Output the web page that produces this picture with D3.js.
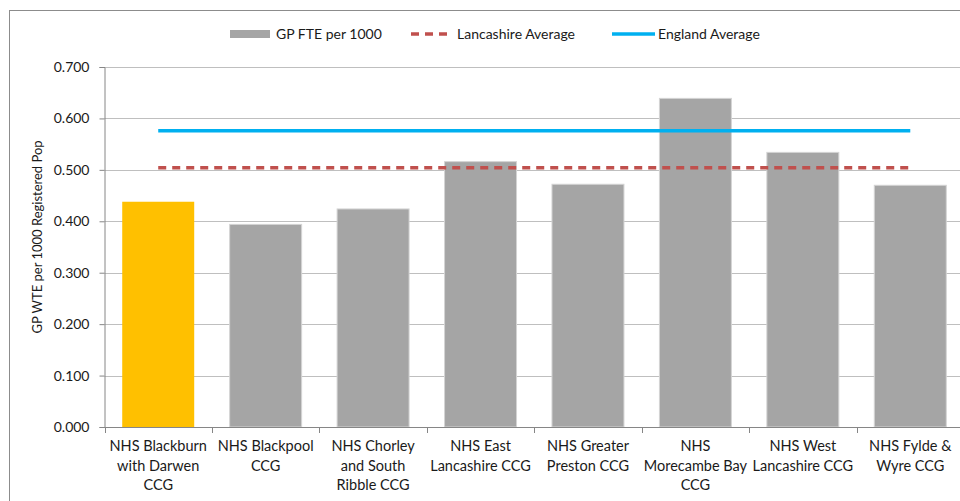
<!DOCTYPE html>
<html>
<head>
<meta charset="utf-8">
<script src="https://cdn.jsdelivr.net/npm/d3@7"></script>
<style>
  body { margin: 0; background: #fff; }
  svg text { font-family: Lato, "Open Sans", sans-serif; fill: #1a1a1a; }
</style>
</head>
<body>
<div id="chart"></div>
<script>
// CCG names, one entry per label line
const categories = [
    ["NHS Blackburn", "with Darwen", "CCG"],
    ["NHS Blackpool", "CCG"],
    ["NHS Chorley", "and South", "Ribble CCG"],
    ["NHS East", "Lancashire CCG"],
    ["NHS Greater", "Preston CCG"],
    ["NHS", "Morecambe Bay", "CCG"],
    ["NHS West", "Lancashire CCG"],
    ["NHS Fylde &", "Wyre CCG"]
];
const gpFte = [0.438, 0.394, 0.424, 0.516, 0.472, 0.639, 0.534, 0.470];
const lancsAverage = 0.504;
const englandAverage = 0.576;
const yTicks = [0, 0.1, 0.2, 0.3, 0.4, 0.5, 0.6, 0.7];

const width = 960, height = 501;
const margin = {top: 67, right: -4, bottom: 74, left: 104.5};

const svg = d3.select("#chart").append("svg")
    .attr("width", width)
    .attr("height", height);

// chart frame
svg.append("rect")
    .attr("x", 9.5).attr("y", 10.5)
    .attr("width", 980).attr("height", 520)
    .attr("fill", "none")
    .attr("stroke", "#8c8c8c");

const x = d3.scaleBand()
    .domain(d3.range(categories.length))
    .range([margin.left, width - margin.right])
    .paddingInner(0.33)
    .paddingOuter(0.165);

const y = d3.scaleLinear()
    .domain([0, 0.7])
    .range([height - margin.bottom, margin.top]);

// gridlines
svg.append("g").selectAll("line")
    .data(yTicks.slice(1))
    .join("line")
    .attr("x1", margin.left).attr("x2", width - margin.right)
    .attr("y1", d => Math.round(y(d)) + 0.5)
    .attr("y2", d => Math.round(y(d)) + 0.5)
    .attr("stroke", "#bfbfbf");

// y axis
let yAxis = svg.append("g")
    .attr("transform", "translate(" + margin.left + ",0)")
    .call(d3.axisLeft(y).tickValues(yTicks).tickFormat(d3.format(".3f")).tickSize(5).tickPadding(10));
yAxis.select(".domain").attr("stroke", "#868686");
yAxis.selectAll(".tick line").attr("stroke", "#868686");
yAxis.selectAll("text").attr("font-size", 14).attr("font-family", "Lato, sans-serif").attr("fill", "#1a1a1a");

// y axis title
svg.append("text")
    .attr("transform", "translate(42," + ((margin.top + height - margin.bottom) / 2 - 10) + ") rotate(-90)")
    .attr("text-anchor", "middle")
    .attr("font-size", 13)
    .text("GP WTE per 1000 Registered Pop");

// bars
svg.append("g").selectAll("rect")
    .data(gpFte)
    .join("rect")
    .attr("x", (d, i) => x(i))
    .attr("y", d => y(d))
    .attr("width", x.bandwidth())
    .attr("height", d => y(0) - y(d))
    .attr("fill", (d, i) => i === 0 ? "#ffc000" : "#a5a5a5")
    .attr("stroke", (d, i) => i === 0 ? "none" : "#d4d4d4")
    .attr("stroke-width", 1);

// x axis line and category ticks
const step = x.step();
const x0 = x(0) - x.step() * x.paddingOuter();
svg.append("line")
    .attr("x1", margin.left).attr("x2", width - margin.right)
    .attr("y1", y(0) + 0.5).attr("y2", y(0) + 0.5)
    .attr("stroke", "#868686");
svg.append("g").selectAll("line")
    .data(d3.range(categories.length + 1))
    .join("line")
    .attr("x1", i => Math.round(x0 + i * step) + 0.5)
    .attr("x2", i => Math.round(x0 + i * step) + 0.5)
    .attr("y1", y(0)).attr("y2", y(0) + 6)
    .attr("stroke", "#868686");

// category labels
svg.append("g").selectAll("text")
    .data(categories)
    .join("text")
    .attr("text-anchor", "middle")
    .attr("font-size", 14.5)
    .attr("x", (d, i) => x(i) + x.bandwidth() / 2)
    .attr("y", y(0) + 24)
    .each(function(lines) {
        let t = d3.select(this);
        let cx = t.attr("x");
        lines.forEach((line, k) => {
            t.append("tspan").attr("x", cx).attr("dy", k === 0 ? 0 : 19.5).text(line);
        });
    });

// average lines, from first to last category centre
const cFirst = x(0) + x.bandwidth() / 2;
const cLast = x(categories.length - 1) + x.bandwidth() / 2;
svg.append("line")
    .attr("x1", cFirst).attr("x2", cLast)
    .attr("y1", y(lancsAverage)).attr("y2", y(lancsAverage))
    .attr("stroke", "#c0504d")
    .attr("stroke-width", 3.5)
    .attr("stroke-dasharray", "8,6");
svg.append("line")
    .attr("x1", cFirst).attr("x2", cLast)
    .attr("y1", y(englandAverage)).attr("y2", y(englandAverage))
    .attr("stroke", "#00b0f0")
    .attr("stroke-width", 3.5);

// legend
let legend = svg.append("g");
legend.append("rect")
    .attr("x", 230).attr("y", 30)
    .attr("width", 40).attr("height", 8)
    .attr("fill", "#a5a5a5");
legend.append("text").attr("x", 276).attr("y", 39).attr("font-size", 14).text("GP FTE per 1000");
legend.append("line")
    .attr("x1", 411).attr("x2", 451).attr("y1", 34).attr("y2", 34)
    .attr("stroke", "#c0504d").attr("stroke-width", 3.5).attr("stroke-dasharray", "8,6");
legend.append("text").attr("x", 457).attr("y", 39).attr("font-size", 14).text("Lancashire Average");
legend.append("line")
    .attr("x1", 612).attr("x2", 655).attr("y1", 34).attr("y2", 34)
    .attr("stroke", "#00b0f0").attr("stroke-width", 3.5);
legend.append("text").attr("x", 658).attr("y", 39).attr("font-size", 14).text("England Average");
</script>
</body>
</html>
